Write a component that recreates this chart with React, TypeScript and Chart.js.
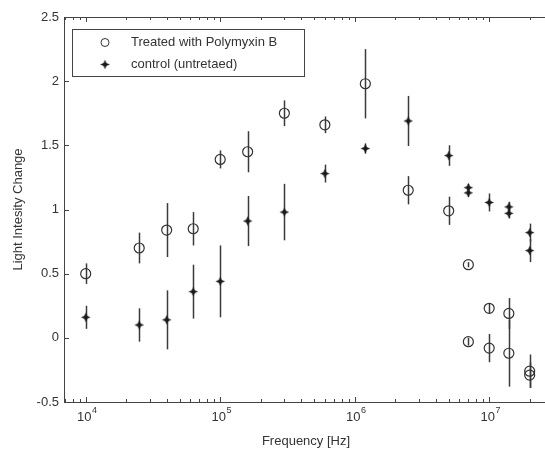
import React, { useEffect, useRef } from "react";
import { Chart, registerables } from "chart.js";

Chart.register(...registerables);

// ---- data ----
const treatedFreq = [1e4, 2.5e4, 4e4, 6.3e4, 1e5, 1.6e5, 3e5, 6e5, 1.2e6, 2.5e6, 5e6, 7e6, 7e6, 1e7, 1e7, 1.4e7, 1.4e7, 2e7, 2e7];
const treatedMean = [0.50, 0.70, 0.84, 0.85, 1.39, 1.45, 1.75, 1.66, 1.98, 1.15, 0.99, 0.57, -0.03, 0.23, -0.08, 0.19, -0.12, -0.26, -0.29];
const treatedErr = [0.08, 0.12, 0.21, 0.13, 0.07, 0.16, 0.10, 0.065, 0.27, 0.11, 0.11, 0.02, 0.03, 0.04, 0.11, 0.12, 0.26, 0.13, 0.10];

const controlFreq = [1e4, 2.5e4, 4e4, 6.3e4, 1e5, 1.6e5, 3e5, 6e5, 1.2e6, 2.5e6, 5e6, 7e6, 7e6, 1e7, 1.4e7, 1.4e7, 2e7, 2e7];
const controlMean = [0.16, 0.10, 0.14, 0.36, 0.44, 0.91, 0.98, 1.28, 1.475, 1.69, 1.42, 1.17, 1.13, 1.055, 1.02, 0.97, 0.82, 0.68];
const controlErr = [0.09, 0.13, 0.23, 0.21, 0.28, 0.195, 0.22, 0.07, 0.04, 0.195, 0.08, 0.03, 0.03, 0.07, 0.04, 0.04, 0.07, 0.09];

const seriesNames = ["Treated with Polymyxin B", "control (untretaed)"];
const yTicks = [-0.5, 0, 0.5, 1, 1.5, 2, 2.5];
const yTickLabels = ["-0.5", "0", "0.5", "1", "1.5", "2", "2.5"];
const xDecadeExps = [4, 5, 6, 7];
const xTitle = "Frequency [Hz]";
const yTitle = "Light Intesity Change";
const xMin = 6898;
const xMax = 2.6e7;
const yMin = -0.5;
const yMax = 2.5;

const FONT = "'Liberation Sans', Arial, sans-serif";
const TEXT = "#333";
const AXIS = "#444";

function makeStar(): HTMLCanvasElement {
  const c = document.createElement("canvas");
  c.width = 11;
  c.height = 11;
  const g = c.getContext("2d")!;
  const cx = 5.5, cy = 5.5, R = 4.7, r = 2.0;
  g.fillStyle = "#1a1a1a";
  g.beginPath();
  for (let i = 0; i < 8; i++) {
    const a = (Math.PI / 4) * i - Math.PI / 2;
    const rr = i % 2 === 0 ? R : r;
    const px = cx + rr * Math.cos(a);
    const py = cy + rr * Math.sin(a);
    if (i === 0) g.moveTo(px, py);
    else g.lineTo(px, py);
  }
  g.closePath();
  g.fill();
  return c;
}

export default function App() {
  const ref = useRef<HTMLCanvasElement | null>(null);

  useEffect(() => {
    if (!ref.current) return;
    const star = makeStar();
    const errs = [treatedErr, controlErr];

    const errorBars = {
      id: "errorBars",
      beforeDatasetsDraw(chart: any) {
        const ctx = chart.ctx;
        const xs = chart.scales.x;
        const ys = chart.scales.y;
        ctx.save();
        ctx.strokeStyle = "#3a3a3a";
        ctx.lineWidth = 1.5;
        chart.data.datasets.forEach((ds: any, di: number) => {
          ds.data.forEach((p: any, i: number) => {
            const e = errs[di][i];
            const px = Math.round(xs.getPixelForValue(p.x)) + 0.5;
            ctx.beginPath();
            ctx.moveTo(px, ys.getPixelForValue(p.y + e));
            ctx.lineTo(px, ys.getPixelForValue(p.y - e));
            ctx.stroke();
          });
        });
        ctx.restore();
      },
    };

    const frame = {
      id: "frame",
      afterDraw(chart: any) {
        const ctx = chart.ctx;
        const a = chart.chartArea;
        const xs = chart.scales.x;
        const ys = chart.scales.y;
        ctx.save();
        ctx.strokeStyle = AXIS;
        ctx.lineWidth = 1;
        // frame (left, top, bottom; right is cut off)
        ctx.beginPath();
        ctx.moveTo(a.right, a.top + 0.5);
        ctx.lineTo(a.left + 0.5, a.top + 0.5);
        ctx.lineTo(a.left + 0.5, a.bottom + 0.5);
        ctx.lineTo(a.right, a.bottom + 0.5);
        ctx.stroke();
        // y ticks
        ctx.beginPath();
        yTicks.forEach((v) => {
          const py = Math.round(ys.getPixelForValue(v)) + 0.5;
          ctx.moveTo(a.left, py);
          ctx.lineTo(a.left + 5, py);
        });
        // x ticks (major + minor), bottom & top
        for (let ex = 3; ex <= 7; ex++) {
          for (let m = 1; m <= 9; m++) {
            const v = m * Math.pow(10, ex);
            if (v < xMin || v > xMax) continue;
            const px = Math.round(xs.getPixelForValue(v)) + 0.5;
            const len = m === 1 ? 5 : 3;
            ctx.moveTo(px, a.bottom);
            ctx.lineTo(px, a.bottom - len);
            ctx.moveTo(px, a.top);
            ctx.lineTo(px, a.top + len);
          }
        }
        ctx.stroke();

        // y tick labels
        ctx.fillStyle = TEXT;
        ctx.font = `13px ${FONT}`;
        ctx.textAlign = "right";
        ctx.textBaseline = "middle";
        yTicks.forEach((v, i) => {
          ctx.fillText(yTickLabels[i], a.left - 5, ys.getPixelForValue(v));
        });
        // x tick labels 10^n
        ctx.textBaseline = "alphabetic";
        xDecadeExps.forEach((ex) => {
          const px = xs.getPixelForValue(Math.pow(10, ex));
          ctx.font = `13px ${FONT}`;
          const w1 = ctx.measureText("10").width;
          ctx.font = `9px ${FONT}`;
          const w2 = ctx.measureText(String(ex)).width;
          const start = px - (w1 + w2) / 2 + 1;
          ctx.textAlign = "left";
          ctx.font = `13px ${FONT}`;
          ctx.fillText("10", start, a.bottom + 19);
          ctx.font = `9px ${FONT}`;
          ctx.fillText(String(ex), start + w1 + 0.5, a.bottom + 11);
        });
        // axis titles
        ctx.font = `13px ${FONT}`;
        ctx.textAlign = "center";
        ctx.textBaseline = "middle";
        ctx.fillText(xTitle, 306, 441);
        ctx.save();
        ctx.translate(18, (a.top + a.bottom) / 2);
        ctx.rotate(-Math.PI / 2);
        ctx.fillText(yTitle, 0, 0);
        ctx.restore();

        // legend
        const lx = 72.5, ly = 29.5, lw = 232, lh = 47;
        ctx.fillStyle = "#fff";
        ctx.fillRect(lx, ly, lw, lh);
        ctx.strokeStyle = AXIS;
        ctx.lineWidth = 1;
        ctx.strokeRect(lx, ly, lw, lh);
        ctx.strokeStyle = "#333";
        ctx.beginPath();
        ctx.arc(105, 42.5, 4, 0, Math.PI * 2);
        ctx.stroke();
        ctx.drawImage(star, 105 - 5.5, 64.5 - 5.5);
        ctx.fillStyle = TEXT;
        ctx.font = `13px ${FONT}`;
        ctx.textAlign = "left";
        ctx.textBaseline = "middle";
        ctx.fillText(seriesNames[0], 131, 42.5);
        ctx.fillText(seriesNames[1], 131, 64.5);
        ctx.restore();
      },
    };

    const chart = new Chart(ref.current, {
      type: "scatter",
      data: {
        datasets: [
          {
            label: seriesNames[0],
            data: treatedFreq.map((f, i) => ({ x: f, y: treatedMean[i] })),
            pointStyle: "circle",
            pointRadius: 5,
            pointBorderWidth: 1.2,
            pointBorderColor: "#333",
            pointBackgroundColor: "rgba(0,0,0,0)",
          },
          {
            label: seriesNames[1],
            data: controlFreq.map((f, i) => ({ x: f, y: controlMean[i] })),
            pointStyle: star as any,
            pointRadius: 5,
          },
        ],
      },
      options: {
        animation: false,
        responsive: false,
        devicePixelRatio: 1,
        layout: { autoPadding: false, padding: { left: 64, top: 17, right: 0, bottom: 50 } },
        plugins: { legend: { display: false }, tooltip: { enabled: false } },
        scales: {
          x: { type: "logarithmic", min: xMin, max: xMax, display: false },
          y: { type: "linear", min: yMin, max: yMax, display: false },
        },
      },
      plugins: [errorBars, frame],
    });
    return () => chart.destroy();
  }, []);

  return (
    <div style={{ position: "fixed", left: 0, top: 0, width: 545, height: 452, background: "#fff" }}>
      <canvas ref={ref} width={545} height={452} />
    </div>
  );
}
